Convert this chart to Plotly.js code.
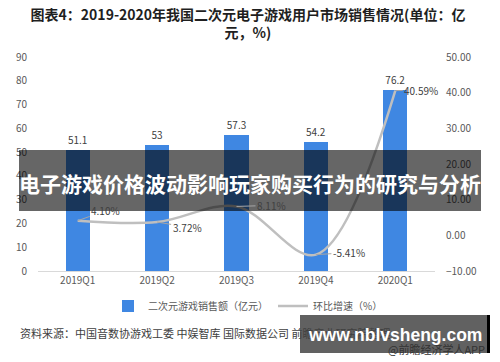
<!DOCTYPE html>
<html><head><meta charset="utf-8">
<script src="https://cdn.plot.ly/plotly-3.0.1.min.js"></script>
<style>html,body{margin:0;padding:0;background:#fff}#chart{width:500px;height:362px}</style>
</head><body><div id="chart"></div>
<script>
// ---- data ----
const categories = ['2019Q1', '2019Q2', '2019Q3', '2019Q4', '2020Q1'];
const salesValues = [51.1, 53, 57.3, 54.2, 76.2];          // 亿元
const growthValues = [4.10, 3.72, 8.11, -5.41, 40.59];     // %
const leftTicks = [0, 10, 20, 30, 40, 50, 60, 70, 80, 90];
const rightTicks = [-10, 0, 10, 20, 30, 40, 50];
const seriesNames = ['二次元游戏销售额（亿元）', '环比增速（%）'];
const titleText = '图表4：2019-2020年我国二次元电子游戏用户市场销售情况(单位：亿<br>元，%)';
const sourceText = '资料来源：中国音数协游戏工委 中娱智库 国际数据公司 前瞻产业研究院整理';
const creditText = '@前瞻经济学人APP';
const overlayText = '电子游戏价格波动影响玩家购买行为的研究与分析';
const bannerText = 'www.nblvsheng.com';

// ---- layout helpers ----
const W = 500, H = 362, L = 38, R = 65, T = 57, B = 91;
const PW = W - L - R, PH = H - T - B;
const px = x => (x - L) / PW;
const py = y => (H - B - y) / PH;
const CJK = '"Noto Sans CJK SC", "Noto Sans", sans-serif';

// label offsets (pixels) for growth labels
const labelOffsets = [[28, -10], [30, 5], [35, -1], [33, -2], [26, 0]];

const traces = [
  {
    type: 'bar', x: categories, y: salesValues, name: seriesNames[0],
    marker: {color: '#3f87e2'}, width: 0.306,
    text: salesValues.map(v => String(v)), textposition: 'outside',
    textfont: {family: CJK, size: 10, color: '#404040'}, cliponaxis: false,
    hoverinfo: 'x+y'
  },
  {
    type: 'scatter', mode: 'lines', x: categories, y: growthValues, yaxis: 'y2',
    name: seriesNames[1], line: {color: '#bfbfbf', width: 2.5, shape: 'spline', smoothing: 1},
    cliponaxis: false
  }
];

const annotations = growthValues.map((v, i) => ({
  x: categories[i], y: v, xref: 'x', yref: 'y2',
  text: v.toFixed(2) + '%', showarrow: true, arrowhead: 0, arrowwidth: 1,
  arrowcolor: '#a6a6a6', ax: labelOffsets[i][0], ay: labelOffsets[i][1],
  font: {family: CJK, size: 10, color: '#404040'}
}));

annotations.push(
  {xref: 'paper', yref: 'paper', x: px(18), y: py(333), xanchor: 'left', yanchor: 'middle',
   showarrow: false, text: sourceText, font: {family: CJK, size: 11, color: '#404040'}},
  {xref: 'paper', yref: 'paper', x: px(487), y: py(349), xanchor: 'right', yanchor: 'middle',
   showarrow: false, text: creditText, font: {family: CJK, size: 11, color: '#333333'}},
  {xref: 'paper', yref: 'paper', x: px(250), y: py(183), xanchor: 'center', yanchor: 'middle',
   showarrow: false, text: '<b>' + overlayText + '</b>',
   font: {family: CJK, size: 21, color: '#ffffff'}},
  {xref: 'paper', yref: 'paper', x: px(395), y: py(335), xanchor: 'center', yanchor: 'middle',
   showarrow: false, text: '<b>' + bannerText + '</b>',
   font: {family: '"Liberation Sans", Arial, sans-serif', size: 17.5, color: '#ffffff'}}
);

const shapes = [
  {type: 'rect', xref: 'paper', yref: 'paper', x0: px(19), x1: px(481), y0: py(150), y1: py(211),
   fillcolor: 'rgba(0,0,0,0.6)', line: {width: 0}, layer: 'above'},
  {type: 'rect', xref: 'paper', yref: 'paper', x0: px(300), x1: px(487), y0: py(315), y1: py(353),
   fillcolor: 'rgba(0,0,0,0.62)', line: {width: 0}, layer: 'above'},
  {type: 'rect', xref: 'paper', yref: 'paper', x0: px(487), x1: px(490), y0: py(315), y1: py(353),
   fillcolor: '#000000', line: {width: 0}, layer: 'above'}
];

const layout = {
  width: W, height: H,
  margin: {l: L, r: R, t: T, b: B, pad: 0},
  paper_bgcolor: '#ffffff', plot_bgcolor: '#ffffff',
  font: {family: CJK, size: 10, color: '#595959'},
  title: {text: titleText, xref: 'container', x: 0.496, xanchor: 'center',
          yref: 'container', y: 1 - 20 / H, yanchor: 'top',
          font: {family: CJK, size: 14, color: '#1f1f1f', weight: 'bold'}},
  showlegend: true,
  legend: {orientation: 'h', x: px(248), xanchor: 'center', y: py(306), yanchor: 'middle',
           font: {family: CJK, size: 10, color: '#595959'}, traceorder: 'normal',
           itemwidth: 30, bgcolor: 'rgba(0,0,0,0)'},
  bargap: 0,
  xaxis: {type: 'category', range: [-0.5, 4.5], showline: true, linecolor: '#d9d9d9', linewidth: 1,
          ticks: '', showgrid: false, zeroline: false, fixedrange: true,
          tickfont: {family: CJK, size: 10, color: '#595959'}},
  yaxis: {range: [0, 90], tickvals: leftTicks, showgrid: false, zeroline: false, showline: false,
          ticks: '', ticklabelstandoff: 10, fixedrange: true,
          tickfont: {family: CJK, size: 10, color: '#595959'}},
  yaxis2: {overlaying: 'y', side: 'right', range: [-10, 50], tickvals: rightTicks,
           tickformat: '.2f', ticksuffix: '%', showgrid: false, zeroline: false, showline: false,
           ticks: '', ticklabelstandoff: 10, fixedrange: true,
           tickfont: {family: CJK, size: 10, color: '#595959'}},
  annotations: annotations,
  shapes: shapes
};

Plotly.newPlot('chart', traces, layout, {displayModeBar: false, staticPlot: true});
</script>
</body></html>
